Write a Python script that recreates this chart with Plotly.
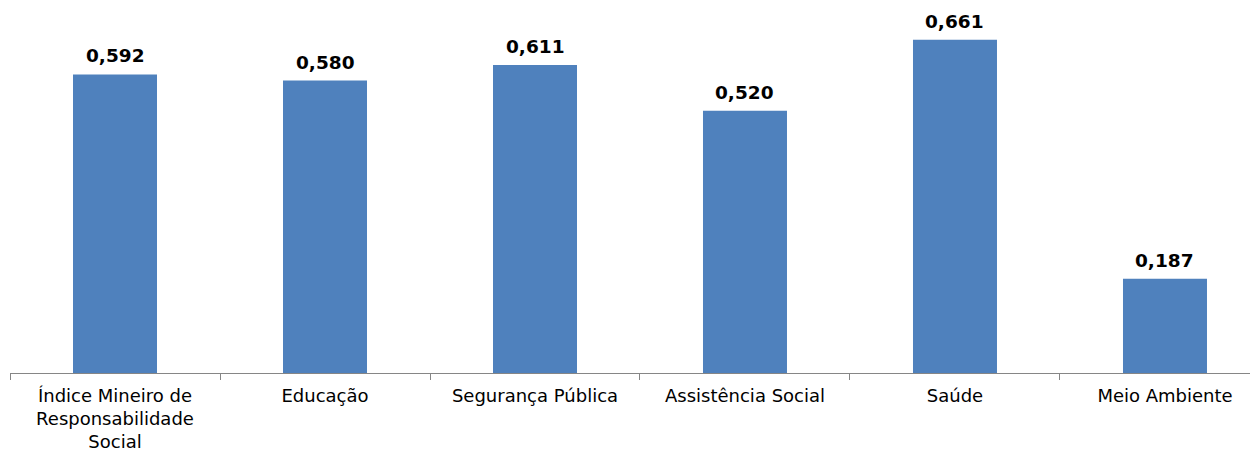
import plotly.graph_objects as go

categories = ["Índice Mineiro de<br>Responsabilidade<br>Social", "Educação", "Segurança Pública",
              "Assistência Social", "Saúde", "Meio Ambiente"]
values = [0.592, 0.580, 0.611, 0.520, 0.661, 0.187]
labels = [f"{v:.3f}".replace(".", ",") for v in values]

fig = go.Figure()
fig.add_trace(go.Bar(x=categories, y=values, marker=dict(color="#4F81BD", line=dict(width=0)),
                     width=0.4, hoverinfo="skip"))

for c, v, t in zip(categories, values, labels):
    fig.add_annotation(x=c, y=v, text=f"<b>{t}</b>", showarrow=False, yanchor="bottom",
                       yshift=6, font=dict(family="DejaVu Sans", size=18.5, color="#000000"))

fig.update_layout(
    width=1258, height=452,
    margin=dict(l=2, r=0, t=12, b=87),
    paper_bgcolor="white", plot_bgcolor="white",
    showlegend=False,
    font=dict(family="DejaVu Sans", size=18, color="#000000"),
)
fig.update_xaxes(type="category", range=[-0.5, 5.481], tickson="boundaries", ticks="outside",
                 ticklen=6, tickcolor="#868686", showline=True, linecolor="#868686", linewidth=1,
                 ticklabelstandoff=6,
                 showgrid=False, zeroline=False, fixedrange=True)
fig.update_yaxes(range=[0, 0.7], visible=False, showgrid=False, zeroline=False)

fig.write_html("out.html")
